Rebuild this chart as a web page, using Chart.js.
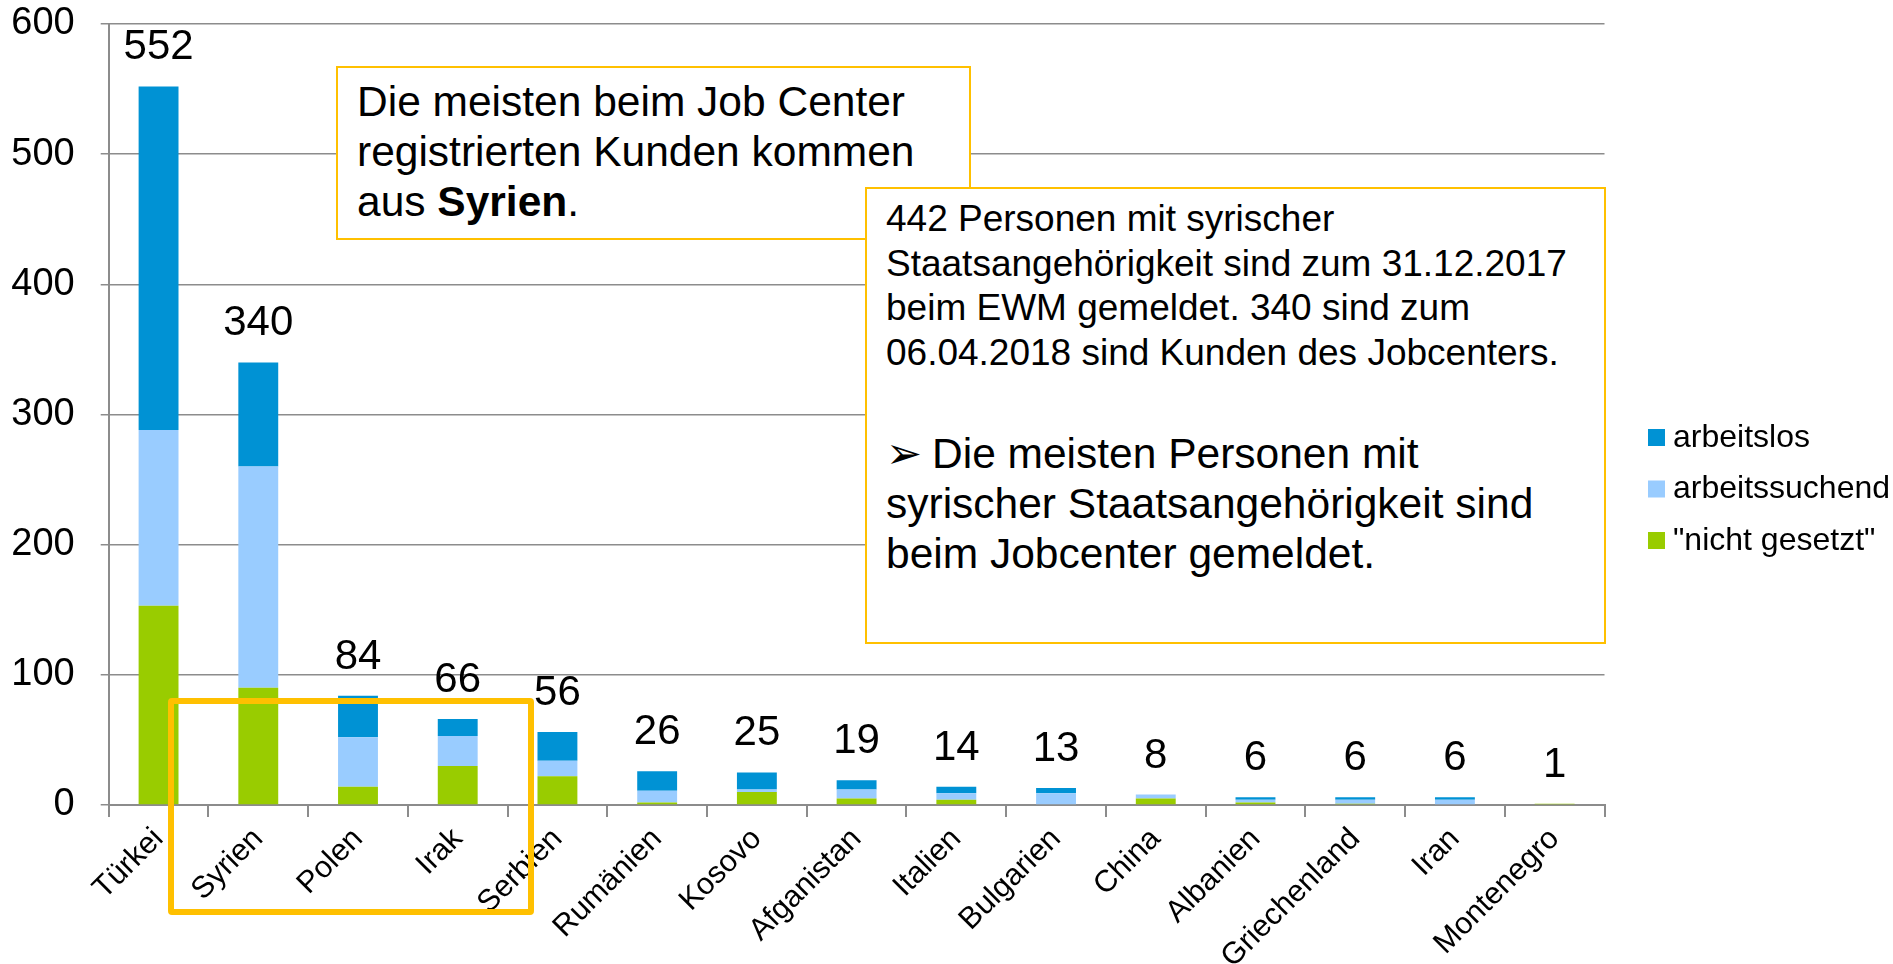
<!DOCTYPE html>
<html><head><meta charset="utf-8">
<script src="https://cdn.jsdelivr.net/npm/chart.js@4.4.1/dist/chart.umd.min.js"></script>
<style>
html,body{margin:0;padding:0;background:#fff;overflow:hidden;}
#wrap{position:relative;width:1893px;height:964px;}
canvas{position:absolute;left:0;top:0;}
.box{position:absolute;box-sizing:border-box;border:2px solid #FFC000;background:#fff;font-family:"Liberation Sans",Arial,sans-serif;color:#000;white-space:nowrap;}
</style></head><body>
<div id="wrap">
<canvas id="c" width="1893" height="964"></canvas>
<div class="box" id="b1" style="left:336px;top:66px;width:635px;height:174px;padding:9px 0 0 19px;font-size:42.5px;line-height:50px;">Die meisten beim Job Center<br>registrierten Kunden kommen<br>aus <b>Syrien</b>.</div>
<div class="box" id="b2" style="left:865px;top:187px;width:741px;height:457px;padding:8px 0 0 19px;">
 <div style="font-size:37px;line-height:44.5px;">442 Personen mit syrischer<br>Staatsangehörigkeit sind zum 31.12.2017<br>beim EWM gemeldet. 340 sind zum<br>06.04.2018 sind Kunden des Jobcenters.</div>
 <div style="font-size:42.5px;line-height:50px;margin-top:53px;"><span style="display:inline-block;width:46px;font-size:43px;line-height:50px;font-family:'DejaVu Sans',sans-serif;">➢</span>Die meisten Personen mit<br>syrischer Staatsangehörigkeit sind<br>beim Jobcenter gemeldet.</div>
</div>
<div id="hl" style="position:absolute;left:168px;top:698px;width:366px;height:217px;box-sizing:border-box;border:6px solid #FFC000;border-radius:4px;"></div>
</div>
<script>
const categories = ["Türkei","Syrien","Polen","Irak","Serbien","Rumänien","Kosovo","Afganistan","Italien","Bulgarien","China","Albanien","Griechenland","Iran","Montenegro"];
const nichtGesetzt   = [153, 90, 14, 30, 22,  2, 10, 5, 4, 0, 5, 2, 1, 0, 1];
const arbeitssuchend = [135,170, 38, 23, 12,  9,  2, 7, 5, 9, 3, 2, 3, 4, 0];
const arbeitslos     = [264, 80, 32, 13, 22, 15, 13, 7, 5, 4, 0, 2, 2, 2, 0];
const yTicks = [0, 100, 200, 300, 400, 500, 600];
const seriesNames = ['"nicht gesetzt"', "arbeitssuchend", "arbeitslos"];
const seriesColors = ["#99CC00", "#99CCFF", "#0092D4"];

const FONT = "'Liberation Sans', Arial, sans-serif";
Chart.defaults.font.family = FONT;
Chart.defaults.color = "#000";
const GRID = "#8C8C8C";

const extras = {
  id: "extras",
  afterDatasetsDraw(chart) {
    const ctx = chart.ctx;
    const y = chart.scales.y;
    const meta = chart.getDatasetMeta(0);
    ctx.save();
    ctx.fillStyle = "#000";
    ctx.font = "42px " + FONT;
    ctx.textAlign = "center";
    ctx.textBaseline = "alphabetic";
    categories.forEach((c, i) => {
      const total = nichtGesetzt[i] + arbeitssuchend[i] + arbeitslos[i];
      const x = meta.data[i].x;
      ctx.fillText(String(total), x, y.getPixelForValue(total) - 27);
    });
    // legend (reverse order)
    ctx.font = "32px " + FONT;
    ctx.textAlign = "left";
    const ds = chart.data.datasets;
    for (let k = 0; k < ds.length; k++) {
      const d = ds[ds.length - 1 - k];
      const top = 429 + k * 51.5;
      ctx.fillStyle = d.backgroundColor;
      ctx.fillRect(1648, top, 17, 17);
      ctx.fillStyle = "#000";
      ctx.fillText(d.label, 1673, top + 17.5);
    }
    ctx.restore();
  }
};

new Chart(document.getElementById("c"), {
  type: "bar",
  data: {
    labels: categories,
    datasets: [
      { label: seriesNames[0], data: nichtGesetzt, backgroundColor: seriesColors[0] },
      { label: seriesNames[1], data: arbeitssuchend, backgroundColor: seriesColors[1] },
      { label: seriesNames[2], data: arbeitslos, backgroundColor: seriesColors[2] }
    ]
  },
  options: {
    responsive: false,
    animation: false,
    devicePixelRatio: 1,
    layout: { padding: { top: 24, right: 288.5, bottom: 0, left: 0 } },
    datasets: { bar: { barPercentage: 0.4, categoryPercentage: 1, borderWidth: 0 } },
    plugins: { legend: { display: false }, tooltip: { enabled: false } },
    scales: {
      x: {
        stacked: true,
        afterFit(s) { s.height = 159; },
        grid: { display: true, drawOnChartArea: false, drawTicks: true, tickLength: 12, color: GRID, lineWidth: 2 },
        border: { display: true, color: GRID, width: 2 },
        ticks: { autoSkip: false, maxRotation: 45, minRotation: 45, font: { size: 30.5 }, color: "#000", padding: 4 }
      },
      y: {
        stacked: true,
        min: 0, max: 600,
        afterFit(s) { s.width = 108.7; s.paddingTop = 0; s.paddingBottom = 0; },
        afterBuildTicks(s) { s.ticks = yTicks.map(v => ({ value: v })); },
        grid: { color: GRID, lineWidth: 1.5, tickLength: 8, drawTicks: true },
        border: { display: true, color: GRID, width: 2 },
        ticks: { font: { size: 38 }, color: "#000", padding: 26 }
      }
    }
  },
  plugins: [extras]
});
</script>
</body></html>
